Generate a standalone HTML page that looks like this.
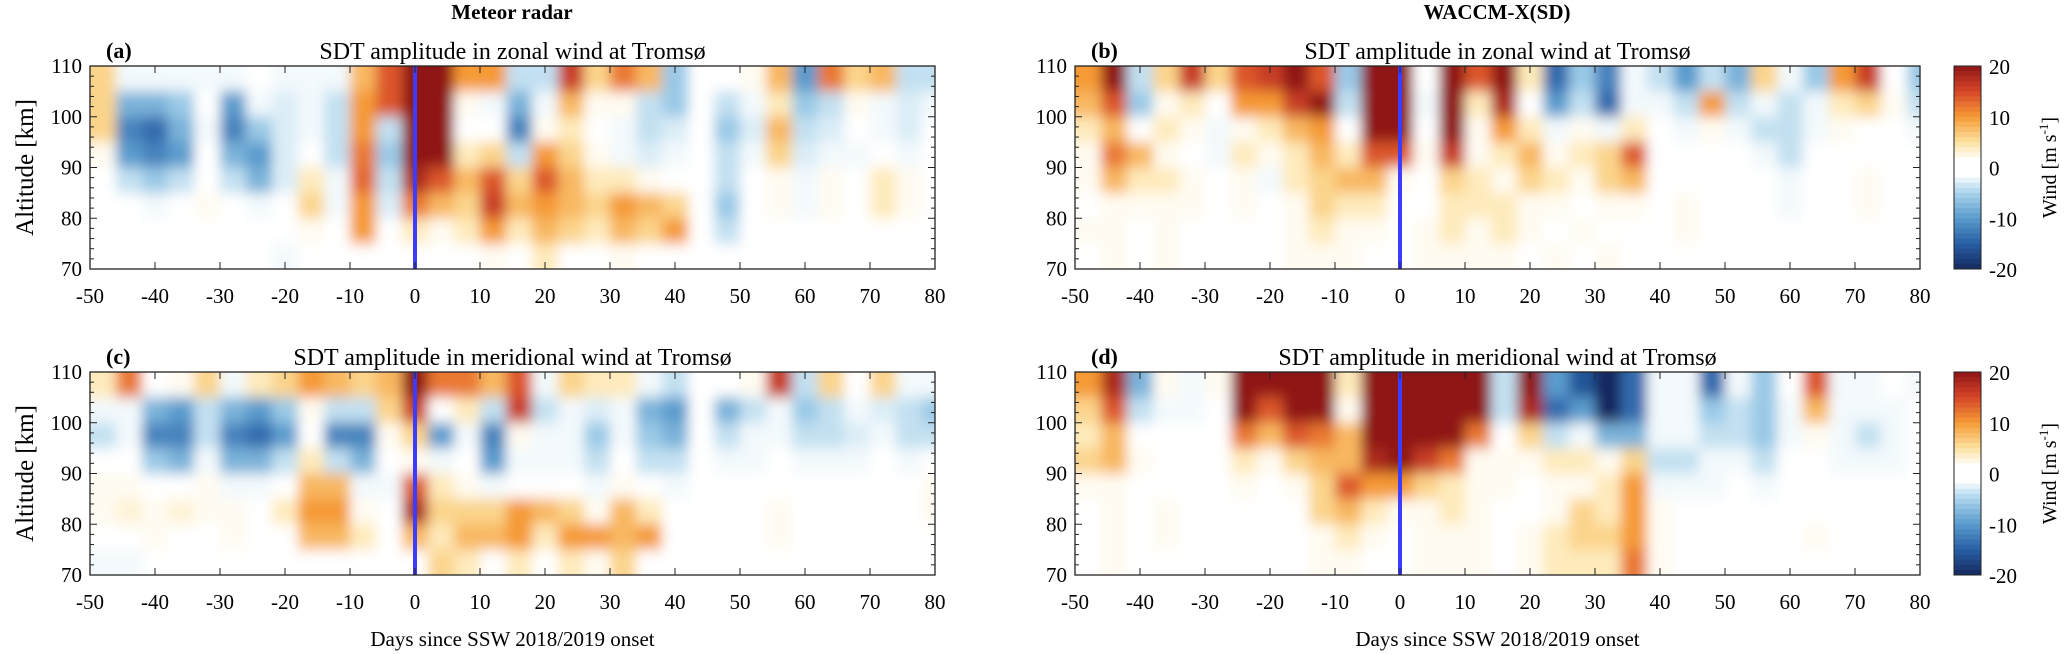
<!DOCTYPE html>
<html><head><meta charset="utf-8"><style>
html,body{margin:0;padding:0;background:#fff;}
svg{display:block;font-family:"Liberation Serif",serif;}
</style></head><body>
<svg id="fig" width="2067" height="654" viewBox="0 0 2067 654">
<defs>
<filter id="smooth" x="-0.05" y="-0.1" width="1.1" height="1.2" filterUnits="objectBoundingBox"><feGaussianBlur stdDeviation="6 7"/></filter>
</defs>
<text x="512" y="19" text-anchor="middle" font-weight="bold" font-size="21">Meteor radar</text>
<text x="1497" y="19" text-anchor="middle" font-weight="bold" font-size="21">WACCM-X(SD)</text>
<g id="panels"></g>
</svg>
<script>
// Day columns: edges from -50 every 4 days; altitude rows: 110-105 (row0) ... 75-70 (row7)
const dayStart = [-50];
const dayStep = [4];
const altTop = [110];
const altStep = [5];
const xTicks = [-50,-40,-30,-20,-10,0,10,20,30,40,50,60,70,80];
const yTicks = [110,100,90,80,70];
const cbTicks = [20,10,0,-10,-20];
const N = null;
const zonalRadar = [
[6,-2,-2,-2,-2,-2,0,-2,-2,-2,8,14,20,20,10,10,-4,-4,16,6,12,8,-6,N,0,2,8,-10,12,6,8,-4,-4],
[6,-8,-8,-6,0,-10,-2,-3,-2,-4,10,14,20,20,2,-2,-8,-2,8,2,2,-4,-6,N,-4,-2,4,-6,-4,2,-2,-3,-2],
[6,-12,-14,-8,-2,-12,-6,-3,-2,-4,10,-4,20,20,0,0,-12,2,4,0,-2,-4,-3,N,-6,-3,8,-4,-3,0,-2,-3,0],
[2,-10,-12,-10,0,-8,-10,-3,0,-4,12,-6,20,20,4,6,-4,10,6,2,-2,-3,-2,N,-4,-2,6,-3,-2,-2,0,-2,0],
[0,-4,-6,-4,0,-4,-8,-3,4,-2,13,-4,18,14,8,14,6,14,8,4,4,2,0,N,-4,0,2,-2,2,0,4,2,0],
[-1,0,-2,0,2,0,-2,-1,6,-2,10,-3,12,8,6,16,8,10,8,6,10,8,6,N,-6,0,2,-2,2,0,4,2,0],
[-1,0,0,0,0,0,0,0,2,0,10,0,4,2,4,10,4,8,6,4,8,6,10,N,-4,0,0,0,0,0,0,0,0],
[-1,-1,0,0,0,0,0,-2,0,0,0,0,0,0,0,2,0,4,0,0,2,0,0,N,0,0,0,-1,0,0,0,0,0]];
const meridRadar = [
[4,12,0,2,6,-2,4,6,10,8,6,8,20,12,12,8,14,-2,6,4,4,-2,-4,N,0,2,16,-4,6,0,6,-2,-2],
[-2,-2,-8,-10,-4,-8,-10,-6,2,-4,-4,6,16,0,4,-4,16,-4,-2,-3,-2,-8,-10,N,-8,-4,-2,-6,-4,-2,-3,-4,-6],
[-4,-2,-12,-12,-4,-12,-14,-10,0,-12,-12,2,6,-10,-2,-12,2,-2,-2,-6,-2,-6,-8,N,-4,-2,-2,-4,-4,-3,-2,-4,-4],
[0,0,-6,-8,-2,-8,-8,-4,4,-4,-8,0,2,-2,0,-10,-2,-2,-2,-4,0,-4,-4,N,-2,-2,0,-2,-2,-2,0,-2,0],
[2,2,0,0,2,-2,-2,0,8,8,-2,-2,14,4,2,-2,0,0,0,-2,2,0,-2,N,0,0,0,0,0,0,0,0,2],
[2,3,2,3,2,2,0,4,10,10,2,0,18,6,6,6,10,8,6,2,8,4,0,N,0,0,2,0,0,0,0,0,2],
[0,0,2,0,0,2,0,0,8,8,4,0,8,4,8,8,10,4,10,10,8,10,0,N,0,0,2,0,0,0,0,0,0],
[-2,-2,0,0,0,0,0,0,0,0,0,0,0,6,4,0,4,0,4,2,6,0,0,N,0,0,0,0,0,0,0,0,0]];
const zonalModel = [
[10,20,-4,6,16,6,14,16,20,14,-6,20,20,0,20,14,20,4,-14,-6,-12,-2,-4,-10,-4,-8,6,-2,-6,10,16,0,-6],
[8,14,-6,2,4,0,10,10,16,20,-4,20,20,-2,20,4,18,0,-10,-4,-14,-2,-2,-4,10,-4,-2,-4,-2,4,6,2,-4],
[4,8,0,4,2,-2,2,4,8,10,0,20,20,0,20,2,10,4,-2,2,-2,4,0,-2,2,-2,-4,-4,-2,2,0,0,-2],
[2,12,8,2,0,-2,4,2,4,8,4,14,14,2,16,2,4,8,2,4,6,14,0,0,0,0,-2,-4,0,0,0,0,0],
[2,8,4,4,2,0,2,-2,4,6,8,8,2,0,6,4,2,6,4,2,6,8,0,0,0,0,0,-2,0,0,2,0,0],
[0,2,2,2,2,0,2,0,2,6,4,4,0,0,4,4,4,2,2,0,2,2,0,2,0,0,0,-2,0,0,2,0,0],
[2,2,0,2,0,0,0,0,2,4,2,2,0,2,4,2,4,2,0,2,0,0,0,2,0,0,0,-1,0,0,0,0,0],
[0,2,0,2,0,0,0,0,2,2,2,0,0,2,2,2,2,0,2,0,2,0,0,0,0,0,0,-1,0,0,0,0,0]];
const meridModel = [
[10,18,-8,2,-2,2,20,20,20,20,4,20,20,20,20,20,-4,20,-10,-16,-20,-14,-2,-2,-14,-2,-6,0,14,-2,-2,0,-2],
[6,14,-4,-2,-2,0,20,14,20,20,2,20,20,20,20,20,-4,18,-14,-10,-20,-14,-2,-2,-6,-4,-6,-2,8,-2,-2,-2,0],
[4,8,0,0,0,0,12,8,14,12,8,20,20,20,20,12,0,6,-4,-2,-8,-8,-2,-2,-4,-4,-6,-2,2,-2,-4,-2,0],
[6,8,2,0,0,0,4,2,6,8,8,18,20,16,12,2,2,2,4,4,2,6,-4,-4,-2,-2,-4,0,0,-2,-2,-2,0],
[2,2,0,0,0,0,2,0,2,6,14,10,10,6,4,2,2,0,2,2,4,10,-2,-2,-2,0,-2,0,0,0,0,0,0],
[0,2,0,2,0,0,0,0,0,6,8,4,2,2,4,2,0,0,2,6,4,10,2,0,0,0,0,0,0,0,0,0,0],
[0,2,0,2,0,0,0,0,0,2,4,2,0,2,2,2,0,2,4,6,6,10,2,0,0,0,0,0,2,0,0,0,0],
[0,2,0,0,0,0,0,0,0,2,2,0,0,2,2,2,0,2,4,4,4,12,2,0,0,0,0,0,0,0,0,0,0]];

const NS='http://www.w3.org/2000/svg';
const stops=[[-20,[22,40,95]],[-15,[40,95,165]],[-10,[90,155,205]],[-5,[170,212,236]],[-1.5,[255,255,255]],[1.5,[255,255,255]],[5,[253,226,160]],[10,[245,154,53]],[15,[214,70,40]],[20,[143,21,24]]];
function color(v){
  v=Math.max(-20,Math.min(20,v));
  for(let i=0;i<stops.length-1;i++){const a=stops[i],b=stops[i+1];
    if(v>=a[0]&&v<=b[0]){const t=(v-a[0])/(b[0]-a[0]);
      return 'rgb('+a[1].map((c,k)=>Math.round(c+(b[1][k]-c)*t)).join(',')+')';}}
  return '#fff';
}
function mk(tag,attrs,parent){const e=document.createElementNS(NS,tag);for(const k in attrs)e.setAttribute(k,attrs[k]);parent.appendChild(e);return e;}
const root=document.getElementById('panels');
const W=845,H=203,PAD=20;
const panels=[
 {x:90,y:66,data:zonalRadar,lab:'(a)',title:'SDT amplitude in zonal wind at Tromsø',bottom:false,cb:false},
 {x:1075,y:66,data:zonalModel,lab:'(b)',title:'SDT amplitude in zonal wind at Tromsø',bottom:false,cb:true},
 {x:90,y:372,data:meridRadar,lab:'(c)',title:'SDT amplitude in meridional wind at Tromsø',bottom:true,cb:false},
 {x:1075,y:372,data:meridModel,lab:'(d)',title:'SDT amplitude in meridional wind at Tromsø',bottom:true,cb:true}];
panels.forEach((p,pi)=>{
  const xs=d=>p.x+(d+50)/130*W;
  const ys=a=>p.y+(110-a)/40*H;
  const g=mk('g',{},root);
  
  
  const cid='clip'+pi;
  const cp=mk('clipPath',{id:cid},g);
  mk('rect',{x:p.x,y:p.y,width:W,height:H},cp);
  const hm=mk('g',{'clip-path':'url(#'+cid+')'},g);
  const inner=mk('g',{filter:'url(#smooth)'},hm);
  mk('rect',{x:p.x-PAD,y:p.y-PAD,width:W+2*PAD,height:H+2*PAD,fill:'#fff'},inner);
  const nr=p.data.length;
  p.data.forEach((row,r)=>{row.forEach((v,c)=>{
    if(v===null)return;
    const d0=dayStart[0]+c*dayStep[0];
    const a0=altTop[0]-r*altStep[0];
    let x=xs(d0),y=ys(a0),w=xs(d0+dayStep[0])-xs(d0)+0.5,h=ys(a0-altStep[0])-ys(a0)+0.5;
    if(c===0){x-=PAD;w+=PAD;}
    if(c===row.length-1){w+=PAD;}
    if(r===0){y-=PAD;h+=PAD;}
    if(r===nr-1){h+=PAD;}
    const rc=mk('rect',{x:x,y:y,width:w,height:h,fill:color(v)},inner);
    
    
  });});
  const sl=mk('line',{x1:xs(0),x2:xs(0),y1:p.y,y2:p.y+H,stroke:'#3c3cff','stroke-width':4},g);
  
  
  const fr=mk('rect',{x:p.x,y:p.y,width:W,height:H,fill:'none',stroke:'#222','stroke-width':1.3},g);
  
  
  xTicks.forEach(t=>{
    mk('line',{x1:xs(t),x2:xs(t),y1:p.y+H,y2:p.y+H-7,stroke:'#222'},g);
    mk('line',{x1:xs(t),x2:xs(t),y1:p.y,y2:p.y+7,stroke:'#222'},g);
    const tx=mk('text',{x:xs(t),y:p.y+H+34,'text-anchor':'middle','font-size':21},g);
    tx.textContent=t;
    
    
  });
  for(let a=70;a<=110;a+=2){
    const len=(a%10===0)?7:4;
    mk('line',{x1:p.x,x2:p.x+len,y1:ys(a),y2:ys(a),stroke:'#222'},g);
    mk('line',{x1:p.x+W,x2:p.x+W-len,y1:ys(a),y2:ys(a),stroke:'#222'},g);
  }
  yTicks.forEach(t=>{
    const ty=mk('text',{x:p.x-8,y:ys(t)+7,'text-anchor':'end','font-size':21},g);
    ty.textContent=t;
    
    
  });
  const lb=mk('text',{x:p.x+16,y:p.y-8,'font-size':22,'font-weight':'bold'},g);
  lb.textContent=p.lab;
  
  
  const tt=mk('text',{x:p.x+W/2,y:p.y-7,'text-anchor':'middle','font-size':24},g);
  tt.textContent=p.title;
  
  
  if(p.x<500){
    const yl=mk('text',{x:0,y:0,'text-anchor':'middle','font-size':25,transform:'translate(33,'+(p.y+H/2)+') rotate(-90)'},g);
    yl.textContent='Altitude [km]';
    
    
  }
  if(p.bottom){
    const xl=mk('text',{x:p.x+W/2,y:646,'text-anchor':'middle','font-size':21},g);
    xl.textContent='Days since SSW 2018/2019 onset';
    
    
  }
  if(p.cb){
    const cx=1954,cw=27;
    const cg=mk('g',{},g);
    
    
    for(let i=0;i<40;i++){
      const v=20-i-0.5;
      mk('rect',{x:cx,y:p.y+i*H/40,width:cw,height:H/40+0.4,fill:color(v)},cg);
    }
    mk('rect',{x:cx,y:p.y,width:cw,height:H,fill:'none',stroke:'#222'},cg);
    cbTicks.forEach(t=>{
      const yy=p.y+(20-t)/40*H;
      const ct=mk('text',{x:cx+cw+8,y:yy+8,'font-size':21},cg);
      ct.textContent=t;
      
      
    });
    const wl=mk('text',{x:0,y:0,'text-anchor':'middle','font-size':20,transform:'translate(2056,'+(p.y+H/2)+') rotate(-90)'},cg);
    wl.innerHTML='Wind [m s<tspan dy="-8" font-size="13">-1</tspan><tspan dy="8">]</tspan>';
    
    
  }
});
</script>
</body></html>
